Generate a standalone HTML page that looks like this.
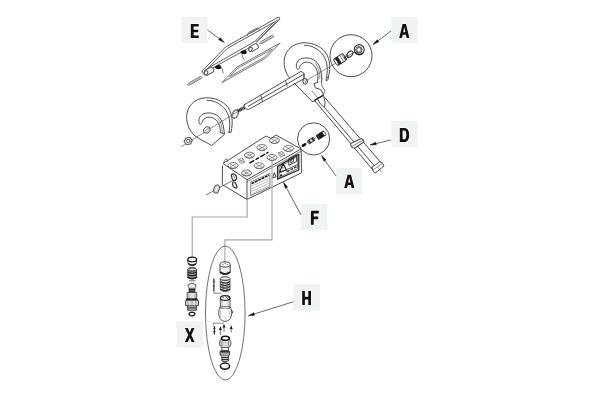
<!DOCTYPE html>
<html><head><meta charset="utf-8"><style>
html,body{margin:0;padding:0;background:#fff;width:600px;height:400px;overflow:hidden}
svg{display:block}
</style></head><body>
<svg width="600" height="400" viewBox="0 0 600 400">
<!-- LABEL BOXES -->
<g fill="#eff4f3">
<rect x="181.5" y="17" width="26" height="26"/>
<rect x="391.5" y="17" width="26" height="26"/>
<rect x="391.5" y="121" width="26" height="26"/>
<rect x="336" y="168" width="26" height="26"/>
<rect x="301" y="204" width="26.5" height="26"/>
<rect x="293.5" y="284.5" width="26.5" height="26"/>
<rect x="176.5" y="321.5" width="26.5" height="26"/>
</g>
<!-- LETTERS -->
<g fill="#111" stroke="#fff" stroke-width="1.2" paint-order="stroke" fill-rule="evenodd">
<path d="M190.8,23.9H198.7V26.6H193.6V29.7H198.2V32.3H193.6V35.4H198.7V38.1H190.8Z"/>
<path d="M399.2,37.9L402.6,24.1H406L409.4,37.9H406.6L405.9,34.8H402.7L402,37.9Z M403.2,32.3H405.4L404.3,27.3Z"/>
<path d="M399.8,127.9H404C407.6,127.9 409.1,130.2 409.1,134.9C409.1,139.6 407.6,141.9 404,141.9H399.8Z M402.6,130.5V139.3H403.8C405.7,139.3 406.3,138 406.3,134.9C406.3,131.8 405.7,130.5 403.8,130.5Z"/>
<path d="M344.2,188.1L347.6,174.7H351L354.4,188.1H351.6L350.9,185H347.7L347,188.1Z M348.2,182.5H350.4L349.3,177.6Z"/>
<path d="M310.9,210.7H318.8V213.4H313.7V216.6H318.2V219.3H313.7V224.7H310.9Z"/>
<path d="M302.2,291.1H304.9V296.8H308.3V291.1H311V305.1H308.3V299.5H304.9V305.1H302.2Z"/>
<path d="M184.9,328.1H187.9L189.75,332.6L191.6,328.1H194.6L191.3,335L194.6,341.9H191.6L189.75,337.4L187.9,341.9H184.9L188.2,335Z"/>
</g>

<!-- leader arrows -->
<g fill="none" stroke="#444" stroke-width="0.8">
<line x1="207.5" y1="30" x2="219.4" y2="38.7"/>
<line x1="391" y1="31" x2="378.0" y2="40.8"/>
<line x1="391" y1="140" x2="376.0" y2="143.6"/>
<line x1="336" y1="176" x2="325.1" y2="160.6"/>
<line x1="301" y1="215" x2="286.4" y2="187.7"/>
<line x1="293.3" y1="301.8" x2="254.2" y2="314.0"/>
</g>
<g fill="#111" stroke="#111" stroke-width="0.5" stroke-linejoin="round">
<path d="M224.4,42.4 L218.6,39.8 L220.2,37.7 Z"/>
<path d="M373.0,44.5 L377.2,39.7 L378.7,41.8 Z"/>
<path d="M370.0,145.0 L375.7,142.3 L376.3,144.8 Z"/>
<path d="M321.5,155.5 L326.1,159.8 L324.0,161.3 Z"/>
<path d="M283.5,182.2 L287.6,187.1 L285.3,188.3 Z"/>
<path d="M248.3,315.8 L253.8,312.7 L254.6,315.2 Z"/>
</g>
<!-- E FRAME -->
<g fill="none" stroke="#4c4f58" stroke-width="0.9" stroke-linejoin="round" stroke-linecap="round">
<path d="M202,71.2 L225.5,47 L278,17.2 Q280.5,17 279.6,19.5 L256,42.5"/>
<path d="M204,72.2 L227,48.6 L278.3,19.8"/>
<path d="M275.3,22.6 L257,41.5 M273,22.8 L255.2,41.2"/>
<path d="M210,67 L255.2,41.2 M211,68.8 L257,43.5"/>
<path d="M247.5,35.5 L248.5,32.5 L257.5,27.8 L259.5,30" stroke-width="0.8"/>
<path d="M250,33.5 L257.5,29.5" stroke-width="0.6"/>
<path d="M202,71.2 Q203,75 206.5,75.5 L211,73"/>
</g>
<!-- hinges -->
<g fill="#fff" stroke="#4c4f58" stroke-width="1">
<path d="M204.5,70.5 L211,67 Q214.5,68 214,71.5 L207.5,75 Q204,74 204.5,70.5Z"/>
<ellipse cx="206" cy="72.8" rx="1.6" ry="2.2" transform="rotate(30 206 72.8)"/>
<path d="M249,47 L255.5,43.5 Q259,44.5 258.5,48 L252,51.5 Q248.5,50.5 249,47Z"/>
<ellipse cx="250.5" cy="49.3" rx="1.6" ry="2.2" transform="rotate(30 250.5 49.3)"/>
</g>
<!-- pins -->
<g fill="none" stroke-linejoin="round">
<path d="M187.5,85.2 L190.0,85.0 L202.1,77.9 L200.9,76.1 L188.8,83.1Z" fill="#fff" stroke="#555" stroke-width="0.7"/>
<path d="M190.9,84.5 L188.9,83.1 M192.0,83.8 L190.1,82.4 M193.1,83.2 L191.2,81.8 M194.3,82.5 L192.3,81.1 M195.4,81.9 L193.4,80.5 M196.5,81.2 L194.5,79.8 M197.6,80.5 L195.7,79.1 M198.8,79.9 L196.8,78.5 M199.9,79.2 L197.9,77.8 M201.0,78.6 L199.0,77.2 " stroke="#666" stroke-width="0.6"/>
<path d="M259.5,43.8 L262.0,43.6 L273.8,36.7 L272.6,34.9 L260.8,41.7Z" fill="#fff" stroke="#555" stroke-width="0.7"/>
<path d="M262.9,43.1 L260.9,41.7 M264.0,42.4 L262.1,41.0 M265.1,41.8 L263.2,40.4 M266.3,41.1 L264.3,39.7 M267.4,40.5 L265.4,39.1 M268.5,39.8 L266.5,38.4 M269.6,39.2 L267.7,37.8 M270.8,38.5 L268.8,37.1 M271.9,37.8 L269.9,36.4 M273.0,37.2 L271.0,35.8 " stroke="#666" stroke-width="0.6"/>
</g>
<g fill="#111">
<path d="M214.5,67.5 Q216,64.5 219.5,65 Q222,66 221,68.5 Q218,70.5 214.5,67.5Z"/>
<path d="M240,52.5 Q241.5,49.5 245,50 Q247.5,51 246.5,53.5 Q243.5,55.5 240,52.5Z"/>
</g>
<g fill="none" stroke="#4c4f58" stroke-width="0.7">
<path d="M220,66 Q223.5,68.5 223,73.5"/>
<path d="M242,54 Q242,57 244,59.5"/>
</g>
<!-- pane -->
<path d="M222,82.6 L237,67 L280.2,43 L265.3,58.3 Z" fill="none" stroke="#6e717a" stroke-width="1" stroke-linejoin="round"/>
<path d="M229.6,76.7 L237.9,68.1 L272.5,48.9 L264.4,57.2 Z" fill="none" stroke="#6e717a" stroke-width="0.9" stroke-linejoin="round"/>

<!-- SHAFT + DISCS -->
<defs>
<g id="disc" fill="none" stroke="#4c4f58" stroke-width="1" stroke-linejoin="round" stroke-linecap="round">
<path d="M231,132 C233.5,122 232.5,111 225.5,104.5 C219.5,99.5 212.5,97.5 205.5,97.8 C196,98.5 189,104 187,113 C185.5,122 189,131 195,136"/>
<path d="M229,132.5 C230.8,123 229.8,114 223.5,107.5 C218.5,102.5 212.5,100.2 207,100.3"/>
<path d="M229,132.5 L231,132"/>
<path d="M220.4,132.5 C220.6,126 218.2,120.5 213.2,118 C208.5,116 204.2,117.8 202.6,121 C202,123.5 200.6,125.2 199.5,123.8 C198,120.5 199,116 203,114 C208.2,111.8 215.5,113 219.8,117.8 C222.8,121.5 224,127.5 224.3,133.6"/>
<path d="M222.3,133.4 C222.6,127 221,122 218,118.5" stroke-width="0.6"/>
</g>
</defs>
<use href="#disc"/>
<path d="M195,136 C200,139.5 205,141.5 209,144 L211.6,145.6 L224.7,134.2 L220.4,132.5" fill="none" stroke="#4c4f58" stroke-width="1" stroke-linejoin="round"/>
<use href="#disc" x="97.5" y="-55"/>
<path d="M328.5,77 L327.8,80 Q327,81 326,80.5 L326.5,77.5 M317.9,77.5 L317.5,82.5 M321.8,78.6 L321.5,83" fill="none" stroke="#4c4f58" stroke-width="1" stroke-linejoin="round"/>
<g fill="none" stroke="#4c4f58" stroke-width="1" stroke-linejoin="round" stroke-linecap="round">
<!-- left disc small nut + axis -->
<line x1="181.5" y1="146.5" x2="241" y2="109.5" stroke-width="0.65"/>
<path d="M203.6,129.5 L206,126.8 L209.5,127.2 L210.3,130.5 L207.8,133.2 L204.5,132.8Z" fill="#fff"/>
<path d="M204.5,131 L209,128 M205.5,132.5 L210,129.5" stroke-width="0.6"/>
<!-- big nut at left end -->
<path d="M184,141.5 L186,138 L190,137.5 L192.3,140.3 L190.5,144 L186.5,144.5Z" stroke-width="1.1" fill="#fff"/>
<circle cx="188.2" cy="141" r="1.7" stroke-width="0.9"/>
<!-- O-ring -->
<ellipse cx="235.3" cy="114" rx="2.6" ry="4.2" transform="rotate(25 235.3 114)" stroke="#555" stroke-width="1.4"/>
<ellipse cx="235.3" cy="114" rx="2.6" ry="4.2" transform="rotate(25 235.3 114)" stroke="#ddd" stroke-width="0.4"/>
</g>
<!-- spring on rod -->
<path d="M237.8,111 L245.2,107.3" stroke="#1a1a1a" stroke-width="3.4" stroke-dasharray="1.1 0.5"/>
<!-- rod (white filled, covers disc) -->
<path d="M244,104.9 L301,71.4 L303.8,73 L303.8,78.8 L248.5,109.5 Q244.2,109.2 244,104.9Z" fill="#fff" stroke="#4c4f58" stroke-width="1" stroke-linejoin="round"/>
<g fill="none" stroke="#4c4f58" stroke-width="1">
<path d="M248,106.4 L303.8,74.3"/>
<path d="M260.5,95 L261.6,98 L262.5,102.2 M285.3,80.3 L286.4,83 L287.2,86.5" stroke-width="0.9"/>
</g>
<!-- right disc nut + axis -->
<g fill="none" stroke="#4c4f58" stroke-width="1">
<line x1="306" y1="80.8" x2="364.5" y2="46" stroke-width="0.65"/>
<line x1="304.5" y1="73.5" x2="304.5" y2="79" stroke-width="0.6"/>
<path d="M302.8,80.5 Q303.5,78 305.8,78.6 Q308,80 307.2,83 Q305.5,85 303.5,83.5 Z" stroke-width="1.1"/>
<path d="M304.5,80.5 Q306,81 305.5,83" stroke-width="0.7"/>
</g>
<!-- LEVER D -->
<g fill="none" stroke="#4c4f58" stroke-width="1" stroke-linejoin="round" stroke-linecap="round">
<path d="M294.5,83.5 L312,101.2 Q313,102.2 314.2,101.3 L323.5,94.5 L320.5,89.5 L315.2,87.8 L314.2,83.6 L317.5,82.5"/>
<path d="M321.5,83 L322.3,86.8 L324.8,90.5 L323.5,94.5" stroke-width="0.8"/>
<path d="M311.8,91 L317.8,97.8" stroke-width="0.7"/>
<path d="M314.5,100.3 L323.2,95.4" stroke-width="1.3" stroke="#222"/>
<path d="M315,101 L372.5,169.5 M324.5,107.5 L374.5,166 M317.5,99 Q320,105 324.5,107.5 Q325.8,103 324.2,97.5 M323,95.5 L383,165"/>
<path d="M350.5,143.5 L361.5,138.5 Q363.8,139.3 364,141.8 L354.5,148.3 Q351,148 350.5,143.5Z" fill="#fff" stroke-width="1.1"/>
<path d="M352.2,146.3 L362.8,140.2" stroke-width="0.7"/>
<path d="M372,167.2 L379.8,161.8 Q383,162 384,166 L375,173.2 Q372.5,172 372,167.2Z" fill="#fff"/>
<path d="M373.5,169.5 L382.5,163.5" stroke-width="0.6"/>
<line x1="378" y1="167.5" x2="381.5" y2="172" stroke-width="0.6"/>
</g>
<!-- CIRCLE A top -->
<g fill="none" stroke="#4c4f58" stroke-width="1">
<circle cx="351" cy="55.7" r="21"/>
</g>
<g transform="rotate(-33 340.2 59.5)">
<rect x="334.8" y="55.6" width="10.8" height="7.8" rx="1.5" fill="#fff" stroke="#333" stroke-width="1"/>
<rect x="335.6" y="55.8" width="4" height="7.4" fill="#1a1a1a"/>
<path d="M342,55.8 V63.2 M344.2,56.5 V62.5" stroke="#555" stroke-width="0.7"/>
<ellipse cx="335.5" cy="59.5" rx="1.2" ry="3.9" fill="#fff" stroke="#333" stroke-width="0.8"/>
</g>
<g fill="none" stroke="#333">
<ellipse cx="346.2" cy="57.2" rx="1.3" ry="2.1" transform="rotate(35 346.2 57.2)" stroke-width="0.9"/>
<ellipse cx="349.9" cy="54.1" rx="2.3" ry="3.6" transform="rotate(40 349.9 54.1)" stroke-width="1.1"/>
<circle cx="359.2" cy="49.6" r="5" stroke-width="1.1" fill="#fff"/>
<path d="M355,52 A5,5 0 0 0 363,53" stroke="#222" stroke-width="1.4"/>
<circle cx="358.9" cy="49.8" r="3.2" stroke-width="0.9"/>
<path d="M356.8,49.5 L358,47.6 L360.4,47.8 L361,50.2 L359.7,52 L357.4,51.8Z" stroke-width="0.7"/>
</g>
<!-- CIRCLE A2 -->
<g fill="none" stroke="#4c4f58" stroke-width="1">
<circle cx="313.6" cy="138.9" r="16.1"/>
<line x1="306" y1="143.5" x2="316" y2="137.5" stroke-width="0.5"/>
</g>
<g transform="rotate(-33 304 145)"><rect x="301.4" y="143.7" width="5.2" height="2.6" rx="1.3" fill="#111"/></g>
<g transform="rotate(-33 311.2 140.6)">
<rect x="307.7" y="138.8" width="7" height="3.6" rx="0.8" fill="#aaa" stroke="#222" stroke-width="0.8"/>
<path d="M309.2,138.8 V142.4 M313.2,138.8 V142.4" stroke="#111" stroke-width="1.2"/>
<path d="M311.2,139.4 V141.8" stroke="#eee" stroke-width="0.9"/>
</g>
<g transform="rotate(-33 320.6 135.5)">
<rect x="316.4" y="132.7" width="8.4" height="5.6" rx="1" fill="#1a1a1a"/>
<path d="M318,133.3 V137.7" stroke="#666" stroke-width="0.7"/>
<ellipse cx="324.6" cy="135.5" rx="1.3" ry="2.8" fill="#fff" stroke="#222" stroke-width="0.8"/>
</g>
<!-- BATTERY BOX -->
<g fill="none" stroke="#4c4f58" stroke-width="1" stroke-linejoin="round">
<path d="M223,163.5 L266,136 L271,138.5 L276,135 L301,149 L247,179.7 Z"/>
<path d="M222.5,165.5 L222.3,184.7 L247,199.4 L301.5,172.8 L301.2,149 M247,179.7 L247,199.4"/>
<path d="M247,181.8 L301.2,151.2" stroke-width="0.7"/>
<path d="M223.5,163 L225,159.5 L227,159 L227.5,162" stroke-width="0.7"/>
</g>
<defs><g id="term"><ellipse cx="0" cy="0" rx="5" ry="3" stroke-width="0.7"/><path d="M-3.3,-1.8 L3.3,1.8 M-3.3,1.8 L3.3,-1.8" stroke-width="0.55"/><path d="M-4.8,1 Q0,4.5 4.8,1" stroke-width="0.5"/></g>
<g id="sterm"><path d="M-3.5,-1 L0.5,-2.8 L3.5,1 L-0.5,2.8 Z" stroke-width="0.55"/><path d="M-3,-1.5 L3,1.5 M-2,2 L2,-2" stroke-width="0.55"/></g></defs>
<g fill="none" stroke="#444">
<use href="#term" x="274.5" y="140.5"/>
<use href="#term" x="262" y="147.5"/>
<use href="#term" x="288.5" y="148.5"/>
<use href="#term" x="249.5" y="155.2"/>
<use href="#term" x="272" y="157.5"/>
<use href="#term" x="233" y="165.5"/>
<use href="#term" x="259.2" y="165.7"/>
<use href="#term" x="246.5" y="173"/>
<use href="#sterm" x="241.5" y="160.8"/>
<use href="#sterm" x="281.5" y="154.2"/>
</g>
<path d="M249.5,163.2 L268.5,152" stroke="#111" stroke-width="1.4" stroke-dasharray="5.5 1.5 4 1.5"/>
<!-- left face: fuse symbol + O-ring axis -->
<g fill="none" stroke="#333" stroke-width="1">
<path d="M231.5,176 C231,173.5 234.5,173 236,175.5 C237.5,178 236.5,180.5 234,180.5 C232.5,180.5 231.8,178 231.5,176Z" stroke-width="1.3"/>
<path d="M233,176 C234,175.5 235,177 234.5,178.5" stroke-width="0.7"/>
<path d="M233.5,181 C232,183.5 232.5,186.5 234.5,187.5 C236,188.5 237.5,188 237,186.5 C236.5,184.5 235,183 234.5,182" stroke-width="1.2"/>
<line x1="206" y1="195" x2="233" y2="180.3" stroke-width="0.65"/>
<ellipse cx="216.6" cy="189" rx="2.6" ry="4.1" transform="rotate(18 216.6 189)" stroke="#555" stroke-width="1.1" fill="#fff"/>
<ellipse cx="216.6" cy="189" rx="1.2" ry="2.6" transform="rotate(18 216.6 189)" stroke="#999" stroke-width="0.5"/>
</g>
<!-- front face label -->
<g fill="none" stroke="#4c4f58">
<path d="M250.7,182 L269.9,173.3 L269.9,186.9 L250.7,195.6 Z" stroke-width="0.7"/>
<path d="M251.6,183.6 L269,175.2" stroke="#111" stroke-width="1.5" stroke-dasharray="3 0.7"/>
<path d="M251.6,186.2 L269,178.2 M251.6,188.8 L269,180.8 M251.6,191.4 L269,183.4 M251.6,193.8 L269,185.8" stroke="#999" stroke-width="0.6"/>
</g>
<!-- warning label -->
<g fill="none" stroke="#2a2a2a" stroke-width="0.8" stroke-linejoin="round">
<path d="M277.6,166.4 L298.8,154.4 L298.8,170 L277.6,179.2 Z" stroke-width="1.3"/>
<path d="M279,167.2 L297.4,156.6 L297.4,168.9 L279,177.2 Z" stroke-width="0.6"/>
<path d="M279.6,172 L283,163.6 L286.4,169.8 Z" stroke-width="1.2"/>
<path d="M282.9,166.5 V168.8" stroke-width="0.8"/>
<path d="M288.8,158.8 L296.6,154.8 L296.6,161.4 L288.8,165.4 Z" stroke-width="0.9"/>
<path d="M290.8,163 V159.8 L293.5,158.3 V161.3 L291,162.5" stroke-width="0.8"/>
<path d="M279.2,173.2 L297.4,164.6" stroke-width="0.8"/>
<path d="M286.5,171.8 L289.5,170.3 M290.5,169.8 L293,168.5 M294,168 L296.5,166.8" stroke="#444" stroke-width="1.6"/>
<circle cx="281" cy="175.3" r="1" fill="#111" stroke="none"/>
<path d="M272.6,177.8 L274.3,172.6 L276,176.9 Z" stroke-width="0.9"/>
</g>
<!-- WIRES -->
<g fill="none" stroke="#a2a6b8" stroke-width="1.15">
<path d="M247.2,199.5 V217 H192.2 V257.5"/>
<path d="M272,161 V239.8 H224.9 V262"/>
</g>
<!-- H ELLIPSE -->
<ellipse cx="225.3" cy="313" rx="19.8" ry="67" fill="none" stroke="#4c4f58" stroke-width="0.8"/>
<!-- H parts -->
<g fill="none" stroke="#333" stroke-width="0.9" stroke-linejoin="round">
<!-- cap -->
<path d="M220,264.5 V272.5 Q225.1,276.5 230.2,272.5 V264.5" fill="#f4f4f4"/>
<ellipse cx="225.1" cy="264.5" rx="5.1" ry="2.6" fill="#fff"/>
<circle cx="223" cy="264.6" r="0.6" fill="#555" stroke="none"/><circle cx="227.2" cy="264.6" r="0.6" fill="#555" stroke="none"/><circle cx="225.1" cy="263.3" r="0.6" fill="#555" stroke="none"/>
<path d="M220,272 Q225.1,276 230.2,272" stroke-width="1.6" stroke="#222"/>
<!-- spring -->
<path d="M220.3,279 V290 Q225.1,293.5 230,290 V279" fill="#ddd" stroke-width="0.7"/>
<ellipse cx="225.1" cy="278.6" rx="4.9" ry="1.8" stroke-width="1"/>
<path d="M220.3,281.5 Q225.1,284.8 230,281.5 M220.3,284 Q225.1,287.3 230,284 M220.3,286.5 Q225.1,289.8 230,286.5 M220.3,289 Q225.1,292.3 230,289" stroke-width="1.2" stroke="#222"/>
<path d="M223,283 V290 M227,283 V290" stroke="#666" stroke-width="1.4"/>
<!-- pin 1 -->
<path d="M213.9,278.5 V291.5" stroke="#333" stroke-width="1.2"/>
<path d="M212.8,281.5 h2.2 M212.8,286 h2.2" stroke-width="0.8"/>
<path d="M214,291.5 V293.2 H221.7" stroke="#555" stroke-width="0.7"/>
<!-- body -->
<path d="M220.4,298 V306.8 H230 V298" fill="#f2f2f2" stroke-width="0.8"/>
<path d="M222.2,299.5 V306 M228.2,299.5 V306" stroke="#c8c8c8" stroke-width="1.3"/>
<ellipse cx="225.2" cy="298" rx="4.8" ry="2.4" fill="#fff" stroke="#222" stroke-width="1.2"/>
<path d="M222.5,297 l1.2,1.3 M225.6,296.4 l1.2,1.3 M227.6,298.6 l0.8,-1.2" stroke="#222" stroke-width="1"/>
<path d="M219.2,307.6 Q225.2,310.5 231.2,307.6" stroke="#222" stroke-width="1.3"/>
<path d="M219.2,308.6 Q218.3,312.5 219,316.2 Q225.2,319.5 231.4,316.2 Q232.2,312.5 231.2,308.6" fill="#fafafa" stroke-width="0.8"/>
<path d="M220.5,310.5 V315 M229.8,310.5 V315" stroke="#bbb" stroke-width="1"/>
<path d="M231.6,310.2 Q233.4,311.3 232.2,313.4" stroke-width="0.9"/>
<path d="M219.5,316.5 Q219.8,320.5 225.2,321.6 Q230.5,320.5 230.9,316.5" fill="#fafafa" stroke-width="0.8"/>
<line x1="225.2" y1="317" x2="225.2" y2="321" stroke="#999" stroke-width="0.5"/>
<!-- pin 2 and arrows -->
<path d="M214.4,326 V334.5" stroke="#333" stroke-width="1.3"/>
<path d="M213.2,328.5 h2.4 M213.2,331.5 h2.4" stroke-width="0.7"/>
<path d="M213.4,325.5 V323.2 H224" stroke="#555" stroke-width="0.7"/>
<path d="M220.4,329.5 V335 M224,327 V332 M231.2,328 V332.5" stroke="#444" stroke-width="0.7"/>
</g>
<g fill="#1a1a1a">
<path d="M220.4,326.3 L218.9,330 H221.9Z M224,323.8 L222.5,327.5 H225.5Z M231.2,325.3 L229.7,329 H232.7Z"/>
</g>
<g fill="none" stroke="#333" stroke-width="0.9" stroke-linejoin="round">
<!-- nut 1 -->
<path d="M221.7,338.5 Q219,341 219.5,344 Q220,347 222,347.5 H228.3 Q230.5,347 231,344 Q231.3,341 228.8,338.5" fill="#d8d8d8" stroke-width="0.8"/>
<ellipse cx="225.4" cy="338.3" rx="3.9" ry="2" fill="#fff" stroke="#1a1a1a" stroke-width="1.6"/>
<path d="M222,341 V346.5 M228.5,341 V346.5" stroke="#999" stroke-width="1.2"/>
<path d="M221.8,347.3 V350.4 M228.5,347.3 V350.4" stroke-width="0.8"/>
<!-- nut 2 -->
<path d="M220,351.5 L221.7,350.4 H228.5 L229.6,351.5 V355 L228.5,355.5 H221.7 L220,355 Z" fill="#aaa" stroke-width="0.9"/>
<path d="M220.3,351.8 H229.3" stroke="#222" stroke-width="1.4"/>
<path d="M221.8,355.5 V361 Q225.1,362.5 228.5,361 V355.5" fill="#ccc" stroke-width="0.8"/>
<path d="M221.8,357.5 H228.5 M221.8,359.6 H228.5" stroke="#222" stroke-width="1"/>
<!-- ring -->
<ellipse cx="225" cy="366.2" rx="4.6" ry="3.1" fill="#fff" stroke="#1a1a1a" stroke-width="1.5"/>
<path d="M221,367.5 Q225,370.5 229,367.5" stroke-width="0.7"/>
<line x1="224.8" y1="371" x2="224.8" y2="373.5" stroke-width="0.5" stroke="#888"/>
</g>
<!-- X CONNECTOR -->
<g fill="none" stroke="#333" stroke-width="0.9" stroke-linejoin="round">
<path d="M187.8,259.5 V262.5 Q188.5,265.8 192.2,265.8 Q195.9,265.8 196.6,262.5 V259.5" fill="#fff" stroke-width="1"/>
<ellipse cx="192.2" cy="259.5" rx="4.4" ry="2.3" fill="#fff" stroke="#222" stroke-width="1.3"/>
<path d="M188.5,263.5 Q192.2,266.5 196,263.5" stroke="#222" stroke-width="1.4"/>
<path d="M189,267.8 H195.5" stroke-width="0.7"/>
<path d="M187.8,269.5 V278 Q192.2,280.5 196.6,278 V269.5" fill="#999" stroke-width="0.9"/>
<ellipse cx="192.2" cy="269.5" rx="4.4" ry="1.6" fill="#ddd" stroke="#222" stroke-width="1"/>
<path d="M187.8,272 Q192.2,274.5 196.6,272 M187.8,274.5 Q192.2,277 196.6,274.5 M187.8,277 Q192.2,279.5 196.6,277" stroke="#111" stroke-width="1.1"/>
<path d="M189,280.8 H195.5" stroke-width="0.7"/>
<path d="M188.2,287.5 V284.5 Q192,281.8 195.8,284.5 V287.5" fill="#e8e8e8" stroke-width="0.8"/>
<path d="M189,287.7 V292.5 H195 V287.7" fill="#777" stroke-width="0.8"/>
<path d="M189,289.6 H195 M189,291.2 H195" stroke="#111" stroke-width="0.8"/>
<path d="M187.2,292.5 V298.5 H196.6 V292.5 Z" fill="#e0e0e0" stroke-width="0.8"/>
<path d="M189,293.5 V298 M195,293.5 V298" stroke="#aaa" stroke-width="1"/>
<path d="M186,299.2 Q192,301.5 197.5,299.2" stroke="#111" stroke-width="2"/>
<path d="M185.6,300.8 L187.5,300.2 H196.8 L198.5,300.8 V305.5 H185.6 Z" fill="#ddd" stroke-width="0.9"/>
<path d="M188,301 V305.5 M192,301 V305.5 M196,301 V305.5" stroke="#888" stroke-width="0.7"/>
<path d="M187.5,305.8 V310.2 Q192,311.8 196.6,310.2 V305.8" fill="#ccc" stroke-width="0.8"/>
<path d="M187.5,307.2 H196.6 M187.5,308.8 H196.6" stroke="#222" stroke-width="0.8"/>
<ellipse cx="192" cy="314.1" rx="3" ry="1.7" fill="#fff" stroke="#222" stroke-width="1.2"/>
<line x1="192.3" y1="316.2" x2="192.3" y2="318" stroke-width="0.5" stroke="#888"/>
</g>
</svg>
</body></html>
